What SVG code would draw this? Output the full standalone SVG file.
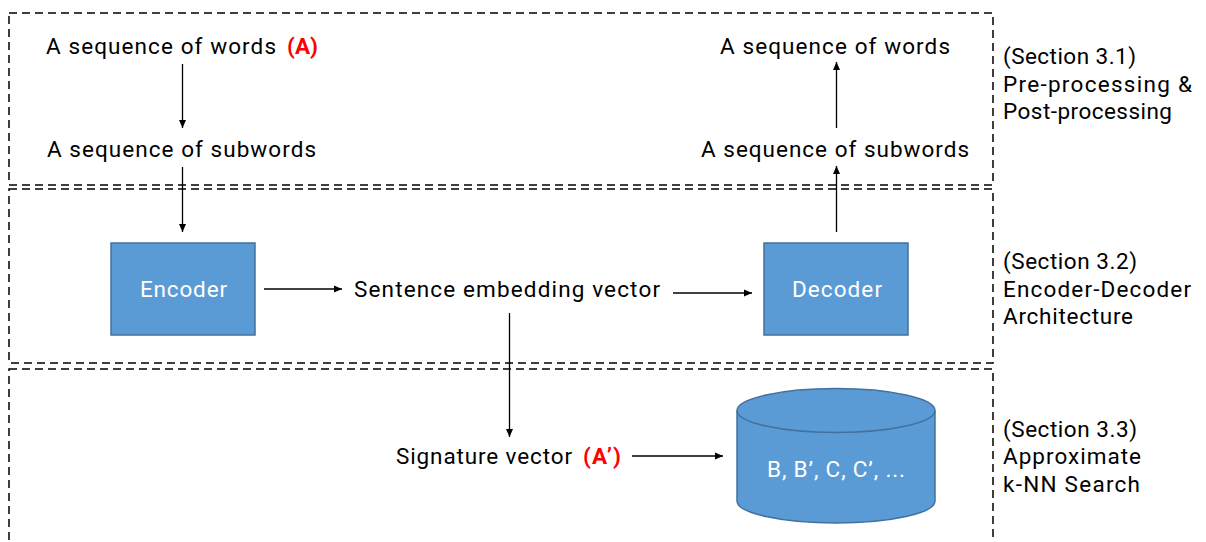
<svg xmlns="http://www.w3.org/2000/svg" width="1206" height="542" viewBox="0 0 1206 542">
<defs>
<marker id="ah" markerWidth="9" markerHeight="8" refX="8" refY="4" orient="auto" markerUnits="userSpaceOnUse">
<path d="M0,0.5 L8,4 L0,7.5 Z" fill="#000"/>
</marker>
<style>
.sec{fill:none;stroke:#000;stroke-width:1.5;stroke-dasharray:8,5}
.t{font-family:Roboto,"Noto Sans",sans-serif;font-size:22.5px;fill:#000}
.w{font-family:Roboto,"Noto Sans",sans-serif;font-size:22.5px;fill:#fff}
.r{font-family:Roboto,"Noto Sans",sans-serif;font-size:22.5px;fill:#ff0000;font-weight:bold}
.box{fill:#5b9bd5;stroke:#41719c;stroke-width:1.5}
.c{fill:none;stroke:#000;stroke-width:1.3;marker-end:url(#ah)}
</style>
</defs>
<g id="sections">
<rect class="sec" x="9" y="13" width="984" height="172"/>
<rect class="sec" x="9" y="189" width="984" height="174"/>
<rect class="sec" x="9" y="369" width="984" height="200"/>
</g>
<g id="section-labels">
<text class="t" x="1003" y="64" textLength="133">(Section 3.1)</text>
<text class="t" x="1003" y="92" textLength="189">Pre-processing &amp;</text>
<text class="t" x="1003" y="119" textLength="169">Post-processing</text>
<text class="t" x="1003" y="269" textLength="134">(Section 3.2)</text>
<text class="t" x="1003" y="297" textLength="188">Encoder-Decoder</text>
<text class="t" x="1003" y="324" textLength="130">Architecture</text>
<text class="t" x="1003" y="437" textLength="134">(Section 3.3)</text>
<text class="t" x="1003" y="464" textLength="138">Approximate</text>
<text class="t" x="1003" y="492" textLength="137">k-NN Search</text>
</g>
<g id="words-in">
<text class="t" x="46" y="54" textLength="230">A sequence of words</text>
<text class="r" x="287" y="54" textLength="31">(A)</text>
</g>
<g id="subwords-in">
<text class="t" x="47" y="157" textLength="269">A sequence of subwords</text>
</g>
<g id="words-out">
<text class="t" x="720" y="54" textLength="230">A sequence of words</text>
</g>
<g id="subwords-out">
<text class="t" x="701" y="157" textLength="268">A sequence of subwords</text>
</g>
<g id="encoder">
<rect class="box" x="111" y="243" width="144" height="92"/>
<text class="w" x="140" y="297" textLength="87">Encoder</text>
</g>
<g id="decoder">
<rect class="box" x="764" y="243" width="144" height="92"/>
<text class="w" x="792" y="297" textLength="90">Decoder</text>
</g>
<g id="embedding">
<text class="t" x="354" y="297" textLength="306">Sentence embedding vector</text>
</g>
<g id="signature">
<text class="t" x="396" y="464" textLength="176">Signature vector</text>
<text class="r" x="583" y="464" textLength="38">(A’)</text>
</g>
<g id="database">
<path class="box" d="M737,411 L737,501 A99,22 0 0 0 935,501 L935,411"/>
<ellipse class="box" cx="836" cy="410.5" rx="99" ry="22"/>
<text class="w" x="767" y="477" textLength="138">B, B’, C, C’, ...</text>
</g>
<g id="connectors">
<line class="c" x1="182.5" y1="64" x2="182.5" y2="128"/>
<line class="c" x1="182.5" y1="167" x2="182.5" y2="232"/>
<line class="c" x1="264" y1="289" x2="342" y2="289"/>
<line class="c" x1="673" y1="293" x2="752" y2="293"/>
<line class="c" x1="509.5" y1="313" x2="509.5" y2="437"/>
<line class="c" x1="632" y1="456" x2="723" y2="456"/>
<line class="c" x1="836.5" y1="232" x2="836.5" y2="166"/>
<line class="c" x1="836.5" y1="128" x2="836.5" y2="62"/>
</g>
</svg>
